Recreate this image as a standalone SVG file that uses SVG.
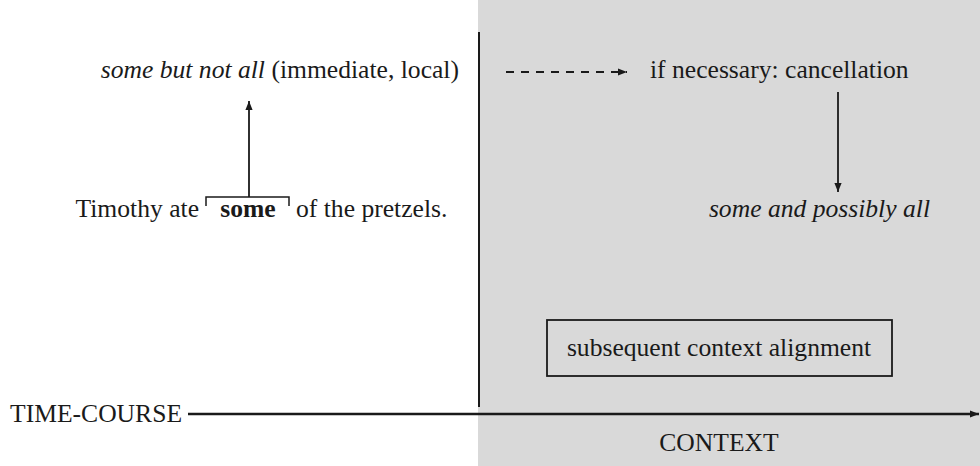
<svg xmlns="http://www.w3.org/2000/svg" width="980" height="466" viewBox="0 0 980 466">
<defs>
<style>
text{font-family:"Liberation Serif","Times New Roman",serif;font-size:25.6px;fill:#1a1a1a}
.it{font-style:italic}
.b{font-weight:bold}
.ln{stroke:#1a1a1a;fill:none}
</style>
<marker id="ah" viewBox="0 0 10 10" refX="10" refY="5" markerWidth="9" markerHeight="9" markerUnits="userSpaceOnUse" orient="auto"><path d="M0,1 L10,5 L0,9 Z" fill="#1a1a1a"/></marker>
</defs>
<rect x="478" y="0" width="502" height="466" fill="#d9d9d9"/>
<g id="connectors">
<line class="ln" x1="479" y1="32" x2="479" y2="407" stroke-width="2"/>
<line class="ln" x1="188" y1="414" x2="979" y2="414" stroke-width="2.6" marker-end="url(#ah)"/>
<line class="ln" x1="249" y1="197" x2="249" y2="101" stroke-width="1.8" marker-end="url(#ah)"/>
<path class="ln" d="M206,206 L206,197 L289,197 L289,206" stroke-width="1.5"/>
<line class="ln" x1="506" y1="72" x2="627" y2="72" stroke-width="1.8" stroke-dasharray="8,7" marker-end="url(#ah)"/>
<line class="ln" x1="838" y1="92" x2="838" y2="192" stroke-width="1.8" marker-end="url(#ah)"/>
</g>
<g id="n-somebutnotall"><text x="459" y="78" text-anchor="end"><tspan class="it">some but not all</tspan> (immediate, local)</text></g>
<g id="n-sentence"><text x="199" y="217" text-anchor="end">Timothy ate</text><text x="248" y="217" class="b" text-anchor="middle">some</text><text x="296" y="217">of the pretzels.</text></g>
<g id="n-cancel"><text x="650" y="78">if necessary: cancellation</text></g>
<g id="n-possibly"><text x="930" y="217" text-anchor="end" class="it">some and possibly all</text></g>
<g id="n-alignment"><rect x="547" y="320" width="345" height="56" fill="none" stroke="#1a1a1a" stroke-width="1.8"/><text x="719" y="356" text-anchor="middle">subsequent context alignment</text></g>
<g id="n-timecourse"><text x="10" y="422">TIME-COURSE</text></g>
<g id="n-context"><text x="719" y="451" text-anchor="middle">CONTEXT</text></g>
</svg>
